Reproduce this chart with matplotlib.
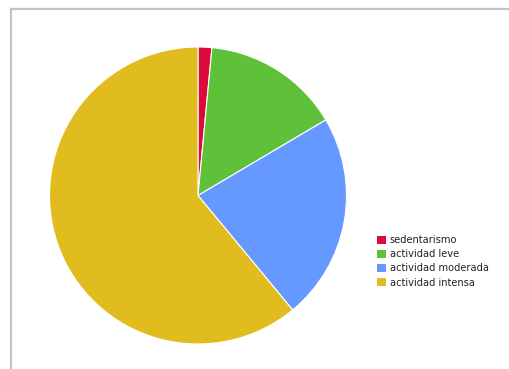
import matplotlib
matplotlib.use("Agg")
import matplotlib.pyplot as plt
from matplotlib.lines import Line2D
from matplotlib.patches import Patch

# Activity level shares (%)
categories = ["sedentarismo", "actividad leve", "actividad moderada", "actividad intensa"]
shares = [1.5, 15.0, 22.5, 61.0]
colors = ["#DC0A3A", "#5FC13A", "#6699FF", "#E0BC1E"]

W, H = 509, 369
fig = plt.figure(figsize=(W / 100, H / 100), dpi=100)
fig.patch.set_facecolor("white")

# pie area in pixel terms
cx, cy, r = 198, 195.5, 148.5
ax = fig.add_axes([(cx - r) / W, (H - cy - r) / H, 2 * r / W, 2 * r / H])
ax.pie(shares, colors=colors, startangle=90, counterclock=False, radius=1,
       wedgeprops=dict(edgecolor="white", linewidth=0.8))
ax.set_xlim(-1, 1)
ax.set_ylim(-1, 1)
ax.set_aspect("equal")
ax.axis("off")

# grey frame along the top and left
fig.add_artist(Line2D([10.5 / W, 1], [1 - 8.5 / H, 1 - 8.5 / H], color="#C4C4C4", lw=1.6,
                      transform=fig.transFigure))
fig.add_artist(Line2D([10.5 / W, 10.5 / W], [0, 1 - 8.5 / H], color="#C4C4C4", lw=1.6,
                      transform=fig.transFigure))

handles = [Patch(facecolor=c, edgecolor="none") for c in colors]
fig.legend(handles, categories, loc="upper left", bbox_to_anchor=(370 / W, 1 - 228.5 / H),
           frameon=False, fontsize=7.1, handlelength=0.95, handleheight=0.95,
           handletextpad=0.35, labelspacing=0.41, borderpad=0.2, labelcolor="#222222")

fig.savefig("out.png", dpi=100)
